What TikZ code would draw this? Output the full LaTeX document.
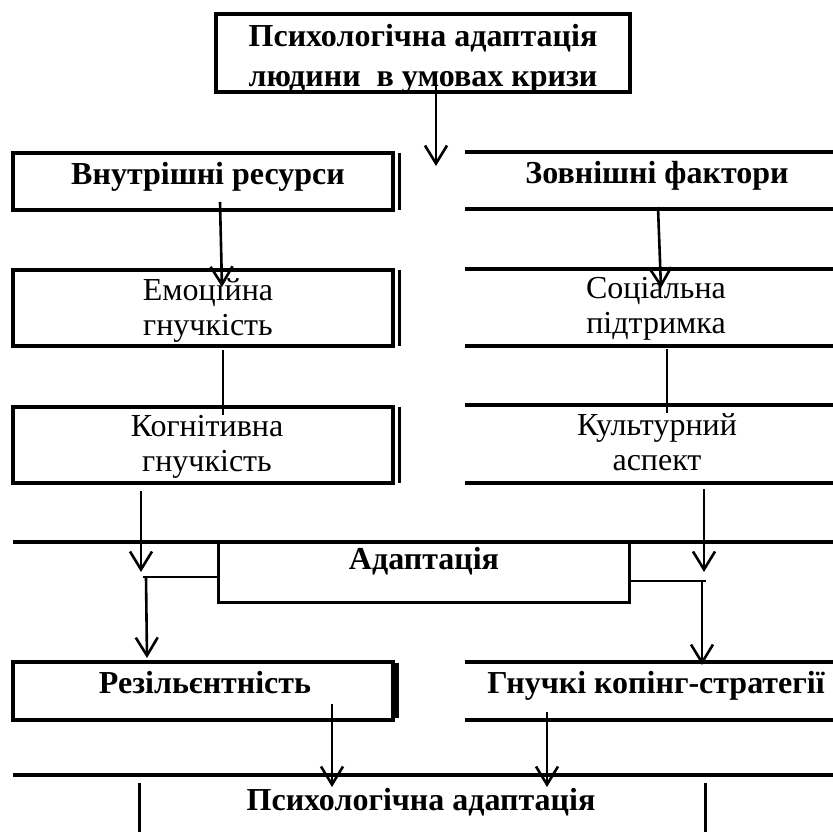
\documentclass[tikz,border=0pt]{standalone}
\usepackage{fontspec}
\setmainfont{Liberation Serif}
\usetikzlibrary{arrows.meta}
\begin{document}
\begin{tikzpicture}[x=1pt,y=-1pt,
  frame/.style={draw, line width=3.5pt, rectangle, inner sep=0pt, outer sep=0pt},
  rule/.style={line width=3.5pt},
  thinrule/.style={line width=2.6pt},
  conn/.style={line width=2.6pt},
  arr/.style={line width=2.6pt, -{Straight Barb[length=18pt,width=22pt,line width=2.6pt]}},
  lbl/.style={inner sep=0pt, outer sep=0pt, align=center, anchor=base, font=\fontsize{32}{35}\selectfont},
  blbl/.style={lbl, font=\fontsize{32}{40}\selectfont\bfseries},
]
\useasboundingbox[fill=white] (0,0) rectangle (833,832);

% left boxes
\node[frame, minimum width=414pt, minimum height=78pt] (topbox) at (423,53) {};
\node[frame, minimum width=380pt, minimum height=57pt] (inbox) at (203,181.5) {};
\node[frame, minimum width=380pt, minimum height=76pt] (emobox) at (203,308) {};
\node[frame, minimum width=380pt, minimum height=76pt] (cogbox) at (203,445) {};
\node[frame, minimum width=380pt, minimum height=58pt] (resbox) at (203,691) {};

% second lines at right of left boxes
\draw[thinrule] ([xshift=6.5pt]inbox.north east) -- ([xshift=6.5pt]inbox.south east);
\draw[thinrule] ([xshift=6.5pt]emobox.north east) -- ([xshift=6.5pt]emobox.south east);
\draw[thinrule] ([xshift=6.5pt]cogbox.north east) -- ([xshift=6.5pt]cogbox.south east);
\fill ([xshift=-1pt,yshift=-1pt]resbox.north east) rectangle ([xshift=6pt,yshift=2pt]resbox.south east);

% right column rules (boxes running off the right edge)
\foreach \yy in {152,209,269,346,405,483,662,720}
  \draw[rule] (465,\yy) -- (833,\yy);

% adaptation block
\draw[rule] (13,542) -- (833,542);
\draw[conn, line width=3pt] (218,542) -- (218,602) -- (629,602) -- (629,542);

% final block
\draw[rule] (13,775) -- (833,775);
\draw[conn, line width=3pt] (139,783) -- (139,832);
\draw[conn, line width=3pt] (705,783) -- (705,832);

% texts (base anchor = baseline of the last line)
\node[blbl] (t1) at (423,87) {Психологічна адаптація\\людини\ \ в умовах кризи};
\node[blbl] (tin) at (208,185) {Внутрішні ресурси};
\node[blbl] (tex) at (657,183) {Зовнішні фактори};
\node[lbl] (temo) at (208,335) {Емоційна\\гнучкість};
\node[lbl] (tsoc) at (656,333) {Соціальна\\підтримка};
\node[lbl] (tcog) at (207,471) {Когнітивна\\гнучкість};
\node[lbl] (tcul) at (657,470) {Культурний\\аспект};
\node[blbl] (tad) at (424,569) {Адаптація};
\node[blbl] (tres) at (205,693) {Резільєнтність};
\node[blbl] (tcop) at (656,693) {Гнучкі копінг-стратегії};
\node[blbl] (tpa) at (421,810) {Психологічна адаптація};

% connector coordinates
\coordinate (a1s) at (436,85);   \coordinate (a1e) at (436,166);
\coordinate (a2s) at (220,202);  \coordinate (a2e) at (222,287);
\coordinate (a3s) at (658,207);  \coordinate (a3e) at (661,288);
\coordinate (c1s) at (223,350);  \coordinate (c1e) at (223,415);
\coordinate (c2s) at (667,349);  \coordinate (c2e) at (667,413);
\coordinate (a4s) at (141,491);  \coordinate (a4e) at (141,572);
\coordinate (a5s) at (704,489);  \coordinate (a5e) at (704,572);
\coordinate (h1s) at (143,577);  \coordinate (h1e) at (218,577);
\coordinate (a6s) at (146,577);  \coordinate (a6e) at (147,658);
\coordinate (h2s) at (629,581);  \coordinate (h2e) at (706,581);
\coordinate (a7s) at (702,581);  \coordinate (a7e) at (702,665);
\coordinate (a8s) at (332,704);  \coordinate (a8e) at (332,787);
\coordinate (a9s) at (547,712);  \coordinate (a9e) at (547,787);

\draw[arr] (a1s) -- (a1e);
\draw[arr] (a2s) -- (a2e);
\draw[arr] (a3s) -- (a3e);
\draw[conn] (c1s) -- (c1e);
\draw[conn] (c2s) -- (c2e);
\draw[arr] (a4s) -- (a4e);
\draw[arr] (a5s) -- (a5e);
\draw[conn] (h1s) -- (h1e);
\draw[arr] (a6s) -- (a6e);
\draw[conn] (h2s) -- (h2e);
\draw[arr] (a7s) -- (a7e);
\draw[arr] (a8s) -- (a8e);
\draw[arr] (a9s) -- (a9e);
\end{tikzpicture}
\end{document}
